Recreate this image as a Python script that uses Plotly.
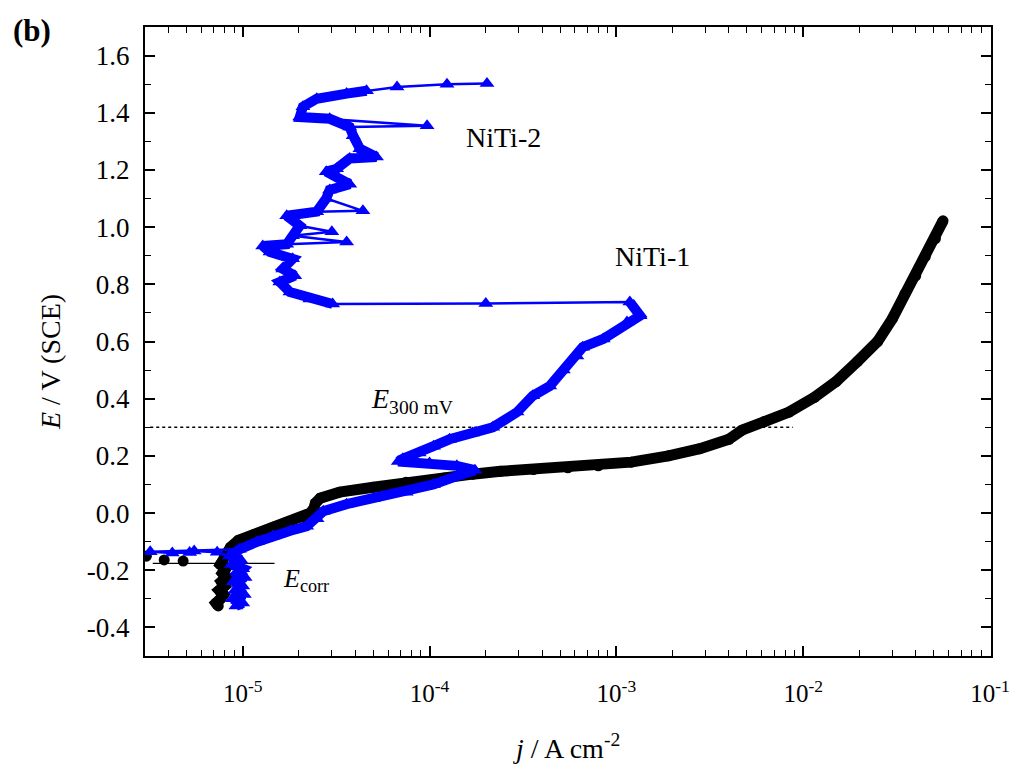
import numpy as np
import plotly.graph_objects as go

# ---------------------------------------------------------------
# Potentiodynamic polarisation curves, NiTi samples
# current density j in A cm^-2, potential E in V vs SCE (scan order)
# ---------------------------------------------------------------
niti1_j = [7.4e-6, 7.2e-6, 7.6e-6, 7.9e-6, 7.5e-6, 8.0e-6, 7.7e-6, 8.2e-6, 7.8e-6, 8.1e-6, 7.6e-6,
           4.8e-6, 3.8e-6, 3.05e-6,
           8.0e-6, 8.6e-6, 9.5e-6, 1.15e-5, 1.45e-5, 1.8e-5, 2.1e-5, 2.3e-5, 2.4e-5, 2.45e-5,
           2.6e-5, 3.3e-5, 5.0e-5, 7.5e-5, 1.2e-4, 1.7e-4, 2.4e-4, 3.6e-4, 5.5e-4, 8.0e-4,
           1.2e-3, 1.9e-3, 2.8e-3, 4.0e-3, 4.7e-3, 6.2e-3, 8.4e-3, 1.15e-2, 1.5e-2, 1.95e-2,
           2.5e-2, 3.0e-2, 3.5e-2, 4.0e-2, 4.5e-2, 5.1e-2, 5.6e-2]
niti1_E = [-0.325, -0.315, -0.30, -0.285, -0.27, -0.255, -0.24, -0.225, -0.21, -0.195, -0.18,
           -0.168, -0.164, -0.151,
           -0.15, -0.12, -0.095, -0.075, -0.05, -0.03, -0.015, 0.0, 0.015, 0.035,
           0.052, 0.073, 0.09, 0.108, 0.123, 0.136, 0.146, 0.152, 0.158, 0.165,
           0.178, 0.20, 0.225, 0.258, 0.29, 0.32, 0.353, 0.405, 0.46, 0.53,
           0.60, 0.68, 0.766, 0.83, 0.897, 0.96, 1.022]
# isolated cathodic points next to E_corr
niti1_isolated = [11, 12, 13]

niti2_j = [9.2e-6, 1.0e-5, 8.8e-6, 1.02e-5, 9.1e-6, 1.0e-5, 8.9e-6, 1.03e-5, 9.4e-6, 1.0e-5,
           8.7e-6, 9.8e-6, 8.5e-6,
           7.3e-6, 5.5e-6, 5.2e-6, 4.2e-6, 3.2e-6,
           9.6e-6, 1.2e-5, 1.45e-5, 1.8e-5, 2.2e-5, 2.5e-5, 2.7e-5, 3.6e-5, 5.0e-5, 7.5e-5,
           1.05e-4, 1.4e-4, 1.75e-4, 1.4e-4, 1.0e-4, 6.8e-5, 7.2e-5, 8.8e-5, 1.05e-4, 1.28e-4,
           1.7e-4, 2.18e-4, 2.94e-4, 3.57e-4, 4.4e-4, 5.2e-4, 6.15e-4, 6.6e-4, 8.5e-4, 1.14e-3,
           1.34e-3, 1.18e-3,
           2.0e-4, 3.03e-5,
           2.29e-5, 1.79e-5, 1.58e-5, 1.9e-5, 1.64e-5, 1.85e-5, 1.4e-5, 1.28e-5, 1.72e-5, 3.6e-5,
           1.85e-5, 3.0e-5, 2.02e-5, 1.72e-5, 2.49e-5, 4.4e-5, 2.8e-5, 2.92e-5, 3.74e-5, 2.8e-5,
           3.18e-5, 3.74e-5, 5.2e-5, 4.24e-5, 3.9e-5, 3.74e-5, 9.7e-5, 2.92e-5, 2.02e-5, 2.1e-5,
           2.49e-5, 3.6e-5, 4.6e-5, 6.7e-5, 1.24e-4, 2.03e-4]
niti2_E = [-0.325, -0.315, -0.30, -0.285, -0.27, -0.255, -0.24, -0.225, -0.21, -0.195,
           -0.18, -0.165, -0.15,
           -0.137, -0.133, -0.138, -0.14, -0.135,
           -0.127, -0.10, -0.08, -0.062, -0.046, -0.02, 0.006, 0.031, 0.05, 0.073,
           0.10, 0.129, 0.15, 0.165, 0.175, 0.18, 0.19, 0.21, 0.234, 0.258,
           0.28, 0.30, 0.353, 0.41, 0.444, 0.50, 0.549, 0.58, 0.609, 0.668,
           0.69, 0.738,
           0.733, 0.731,
           0.749, 0.773, 0.808, 0.83, 0.854, 0.889, 0.913, 0.934, 0.94, 0.948,
           0.97, 0.984, 1.005, 1.04, 1.054, 1.057, 1.10, 1.13, 1.15, 1.194,
           1.204, 1.24, 1.245, 1.274, 1.32, 1.35, 1.355, 1.379, 1.385, 1.421,
           1.449, 1.467, 1.477, 1.49, 1.50, 1.502]
# current spikes (thin excursions) and the jump from the active peak to the passive range
niti2_spikes = [13, 14, 15, 16, 17, 50, 61, 63, 67, 78, 85, 86, 87]
niti2_jump_after = 49

# reference levels
E_300mV = 0.30
E_corr = -0.176

FONT = "Liberation Serif"
BLUE = "#0000FF"


def band(js, es, skip=(), split_after=None):
    """Dense part of a scan drawn as a continuous thick stroke."""
    bx, by = [], []
    for i, (j, e) in enumerate(zip(js, es)):
        if i in skip:
            continue
        bx.append(j)
        by.append(e)
        if split_after is not None and i == split_after:
            bx.append(None)
            by.append(None)
    return bx, by


fig = go.Figure()

# E_300 mV dotted level and E_corr marker line
fig.add_trace(go.Scatter(x=[3.2e-6, 8.8e-3], y=[E_300mV, E_300mV], mode="lines",
                         line=dict(color="black", width=1.3, dash="dot"), showlegend=False))
fig.add_trace(go.Scatter(x=[3.3e-6, 1.48e-5], y=[E_corr, E_corr], mode="lines",
                         line=dict(color="black", width=1.3), showlegend=False))

# NiTi-1
b1x, b1y = band(niti1_j, niti1_E, skip=niti1_isolated)
fig.add_trace(go.Scatter(x=b1x, y=b1y, mode="lines",
                         line=dict(color="black", width=11), showlegend=False))
fig.add_trace(go.Scatter(x=niti1_j, y=niti1_E, mode="markers", name="NiTi-1",
                         marker=dict(symbol="circle", size=11, color="black"), showlegend=False))

# NiTi-2
b2x, b2y = band(niti2_j, niti2_E, skip=niti2_spikes, split_after=niti2_jump_after)
fig.add_trace(go.Scatter(x=b2x, y=b2y, mode="lines",
                         line=dict(color=BLUE, width=10), showlegend=False))
fig.add_trace(go.Scatter(x=niti2_j, y=niti2_E, mode="lines+markers", name="NiTi-2",
                         line=dict(color=BLUE, width=2.5),
                         marker=dict(symbol="triangle-up", size=13, color=BLUE), showlegend=False))

x_major = [1e-5, 1e-4, 1e-3, 1e-2, 1e-1]
x_labels = ["10<sup>-5</sup>", "10<sup>-4</sup>", "10<sup>-3</sup>", "10<sup>-2</sup>", "10<sup>-1</sup>"]
x_minor = [k * 10.0 ** e for e in range(-6, -1 + 1) for k in range(2, 10)]
y_major = [round(v, 1) for v in np.arange(-0.4, 1.61, 0.2)]
y_labels = [f"{v:.1f}" for v in y_major]
y_minor = [round(v, 1) for v in np.arange(-0.5, 1.71, 0.1)]

axis_common = dict(showgrid=False, zeroline=False, showline=True, linecolor="black", linewidth=2,
                   mirror="allticks", ticks="inside", ticklen=10, tickwidth=1.6, tickcolor="black",
                   ticklabeloverflow="allow", automargin=False)

fig.update_xaxes(type="log", range=[np.log10(3e-6), -0.995], tickvals=x_major, ticktext=x_labels,
                 ticklabelstandoff=14, tickfont=dict(family=FONT, size=25, color="black"),
                 minor=dict(tickvals=x_minor, ticks="inside", ticklen=6, tickwidth=1.3,
                            tickcolor="black", showgrid=False),
                 **axis_common)
fig.update_yaxes(range=[-0.5, 1.7], tickvals=y_major, ticktext=y_labels, ticklabelstandoff=8,
                 tickfont=dict(family=FONT, size=27, color="black"),
                 minor=dict(tickvals=y_minor, ticks="inside", ticklen=6, tickwidth=1.3,
                            tickcolor="black", showgrid=False),
                 **axis_common)

L, R, T, B = 145, 19, 27, 116
W, H = 1010, 772
PW, PH = W - L - R, H - T - B


def px(x, y):
    """Pixel position on the page -> paper coordinates."""
    return (x - L) / PW, (H - B - y) / PH


def note(text, x, y, size=27, xanchor="center", angle=0):
    ax, ay = px(x, y)
    fig.add_annotation(text=text, xref="paper", yref="paper", x=ax, y=ay, showarrow=False,
                       xanchor=xanchor, yanchor="middle", textangle=angle,
                       font=dict(family=FONT, size=size, color="black"))


note("<b>(b)</b>", 32, 30, size=31)
note("NiTi-2", 503, 137, size=28)
note("NiTi-1", 652, 256, size=28)
note("<i>E</i><sub>300 mV</sub>", 369, 400, size=28, xanchor="left")
note("<i>E</i><sub>corr</sub>", 281, 580, size=26, xanchor="left")
note("<i>E</i> / V (SCE)", 50, 362, size=28, angle=-90)
note("<i>j</i> / A cm<sup>-2</sup>", 566, 746, size=28)

fig.update_layout(width=W, height=H, margin=dict(l=L, r=R, t=T, b=B, autoexpand=False),
                  paper_bgcolor="white", plot_bgcolor="white", showlegend=False)

fig.write_html("out.html")
